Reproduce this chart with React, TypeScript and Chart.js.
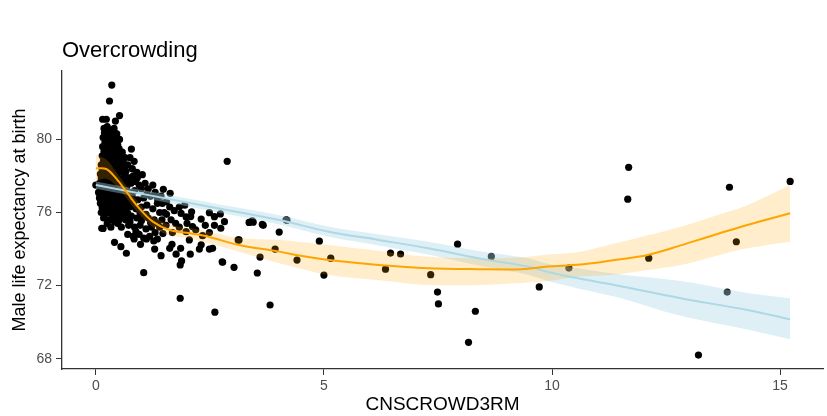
import React, { useEffect, useRef } from "react";
import { Chart, registerables } from "chart.js";

Chart.register(...registerables);

const TITLE = "Overcrowding";
const X_LABEL = "CNSCROWD3RM";
const Y_LABEL = "Male life expectancy at birth";
const xTicks = [0, 5, 10, 15];
const yTicks = [68, 72, 76, 80];

// observed areas: [CNSCROWD3RM, male life expectancy]
const observations: number[][] = [
  [0.35, 82.97], [0.3, 82.1], [0.15, 81.1], [0.23, 81.1], [0.43, 81.0], [0.52, 81.3], [0.78, 79.47], [0.84, 78.8], [2.88, 78.8],
  [0.18, 80.6], [0.25, 80.7], [0.33, 80.5], [0.4, 80.6], [0.46, 80.3],
  [0.16, 80.1], [0.24, 80.2], [0.31, 80.0], [0.38, 80.1], [0.45, 79.9], [0.52, 80.0],
  [0.15, 79.6], [0.22, 79.7], [0.3, 79.5], [0.37, 79.6], [0.44, 79.4], [0.51, 79.5], [0.58, 79.3],
  [0.14, 79.1], [0.21, 79.2], [0.28, 79.0], [0.35, 79.1], [0.43, 78.9], [0.5, 79.0], [0.57, 78.8], [0.64, 79.0],
  [0.12, 78.6], [0.2, 78.7], [0.27, 78.5], [0.34, 78.6], [0.41, 78.4], [0.48, 78.5], [0.56, 78.3], [0.63, 78.5], [0.7, 78.6],
  [0.1, 78.1], [0.18, 78.2], [0.26, 78.0], [0.33, 78.1], [0.4, 77.9], [0.47, 78.0], [0.54, 77.8], [0.62, 78.0], [0.69, 77.9],
  [0.0, 77.5], [0.08, 77.6], [0.16, 77.7], [0.24, 77.5], [0.31, 77.6], [0.39, 77.4], [0.46, 77.5], [0.53, 77.3], [0.61, 77.5], [0.68, 77.4],
  [0.06, 77.1], [0.14, 77.0], [0.22, 77.1], [0.3, 76.9], [0.37, 77.0], [0.45, 76.8], [0.52, 77.0], [0.6, 76.9], [0.67, 76.8],
  [0.1, 76.5], [0.18, 76.6], [0.26, 76.4], [0.33, 76.5], [0.41, 76.3], [0.49, 76.5], [0.57, 76.3], [0.65, 76.4],
  [0.12, 76.0], [0.2, 75.9], [0.28, 76.0], [0.36, 75.8], [0.44, 75.9], [0.52, 75.7], [0.6, 75.9],
  [0.13, 75.14], [0.41, 75.5], [0.48, 75.4], [0.25, 75.4], [0.33, 75.2], [0.56, 75.2],
  [0.19, 80.35], [0.27, 80.4], [0.35, 80.3], [0.42, 80.35], [0.2, 79.85], [0.27, 79.9], [0.34, 79.8], [0.41, 79.85], [0.48, 79.7],
  [0.18, 79.35], [0.25, 79.4], [0.33, 79.3], [0.4, 79.35], [0.47, 79.2], [0.55, 79.1], [0.17, 78.85], [0.24, 78.9], [0.31, 78.8],
  [0.39, 78.75], [0.46, 78.7], [0.53, 78.6], [0.6, 78.75], [0.14, 78.35], [0.22, 78.45], [0.3, 78.3], [0.37, 78.35], [0.44, 78.2],
  [0.51, 78.25], [0.59, 78.2], [0.66, 78.25], [0.12, 77.85], [0.2, 77.9], [0.28, 77.8], [0.35, 77.85], [0.43, 77.7], [0.5, 77.6],
  [0.58, 77.7], [0.65, 77.65], [0.73, 77.9], [0.1, 77.3], [0.18, 77.35], [0.27, 77.25], [0.34, 77.3], [0.42, 77.15], [0.49, 77.2],
  [0.57, 77.1], [0.64, 77.2], [0.72, 77.1], [0.08, 76.8], [0.15, 76.85], [0.23, 76.75], [0.31, 76.7], [0.39, 76.6], [0.47, 76.7],
  [0.55, 76.6], [0.63, 76.65], [0.7, 76.6], [0.14, 76.25], [0.23, 76.2], [0.3, 76.25], [0.39, 76.1], [0.47, 76.2], [0.55, 76.0],
  [0.63, 76.1], [0.7, 75.95], [0.17, 75.7], [0.3, 75.6], [0.4, 75.7], [0.5, 75.55], [0.65, 75.6],
  [0.75, 79.0], [0.9, 78.2], [1.02, 78.07], [0.91, 77.9], [0.8, 78.4], [0.77, 77.6], [0.85, 77.2], [0.95, 77.5], [1.08, 77.6],
  [1.15, 77.3], [1.25, 77.5], [1.3, 77.1], [1.2, 76.9], [1.05, 76.8], [0.92, 76.7], [0.8, 76.9], [0.75, 76.3], [0.88, 76.2],
  [1.0, 76.3], [1.12, 76.4], [1.25, 76.2], [1.35, 76.5], [1.4, 76.0], [0.78, 75.8], [0.9, 75.7], [1.03, 75.8], [1.15, 75.7],
  [1.28, 75.6], [0.72, 75.3], [0.85, 75.2], [0.97, 75.3], [1.1, 75.1], [1.22, 75.2], [1.35, 75.4], [0.7, 74.8], [0.82, 74.7],
  [0.95, 74.8], [1.05, 74.6], [1.18, 74.7], [1.3, 74.9],
  [0.82, 78.0], [0.87, 77.7], [1.0, 77.3], [1.12, 77.0], [0.83, 76.55], [0.97, 76.0], [1.1, 75.9], [1.2, 75.45], [1.0, 75.55],
  [0.75, 75.5], [0.88, 74.95], [1.4, 75.2], [1.5, 76.0], [1.35, 76.75],
  [0.41, 74.37], [0.55, 74.13], [0.67, 73.77], [0.84, 74.55], [0.98, 74.26], [1.11, 74.55], [1.27, 74.44], [1.35, 74.55],
  [1.29, 74.0], [1.43, 73.64], [1.05, 72.71], [1.62, 74.04], [1.67, 74.26], [1.86, 74.04], [1.76, 73.72], [1.88, 73.35],
  [1.85, 73.13], [2.07, 73.72], [2.05, 74.5], [2.31, 74.23], [2.27, 74.0], [2.49, 74.0], [2.56, 74.04], [2.78, 73.28],
  [3.03, 73.0], [3.12, 74.5], [1.85, 71.31], [2.61, 70.55], [0.16, 75.13],
  [1.48, 77.27], [1.63, 77.05], [1.43, 76.9], [1.46, 76.5], [1.62, 76.3], [1.72, 76.1], [1.83, 76.3], [1.87, 75.95],
  [2.1, 76.04], [2.08, 75.78], [1.98, 75.76], [2.31, 75.64], [2.49, 75.99], [2.6, 75.77], [2.73, 75.92], [2.82, 75.5],
  [2.74, 75.14], [2.49, 74.9], [3.36, 75.46], [3.14, 74.5], [2.12, 75.23], [2.19, 75.05], [1.83, 75.2], [1.54, 75.3],
  [1.47, 74.85], [1.68, 74.9], [1.98, 74.95], [2.34, 74.73], [1.55, 75.9], [1.45, 75.6], [1.65, 75.6], [1.75, 75.4],
  [2.0, 75.4], [2.4, 75.3], [2.6, 75.3], [1.55, 76.6], [1.95, 76.4],
  [3.43, 75.55], [3.65, 75.35], [4.17, 75.6], [4.19, 75.58], [4.02, 74.93], [3.67, 75.3], [3.45, 75.47], [3.6, 73.56],
  [3.93, 74.0], [3.54, 72.69], [3.82, 70.94], [2.77, 73.3],
  [4.41, 73.4], [4.9, 74.43], [5.0, 72.58], [5.15, 73.5], [6.35, 72.9], [6.46, 73.78], [6.68, 73.73], [7.34, 72.6],
  [7.49, 71.65], [7.51, 71.0], [7.93, 74.27], [8.17, 68.9], [8.32, 70.6], [8.67, 73.6], [9.72, 71.93], [10.37, 72.96],
  [11.68, 78.47], [11.66, 76.73], [12.12, 73.5], [13.21, 68.2], [13.84, 71.65], [13.89, 77.38], [14.04, 74.4], [15.22, 77.7],
];

// loess smooth (orange) with confidence band
const loessX = [0, 0.23, 0.45, 0.67, 0.92, 1.25, 1.62, 2.12, 2.49, 3.14, 4.02, 4.45, 5.11, 6.2, 7.29, 8.38, 9.33, 9.91, 10.63, 11.37, 12.1, 12.82, 13.55, 14.28, 15.22];
const loessFit = [78.42, 78.38, 77.85, 77.14, 76.32, 75.5, 75.04, 74.84, 74.66, 74.22, 73.86, 73.65, 73.4, 73.13, 72.95, 72.9, 72.9, 73.04, 73.15, 73.4, 73.68, 74.2, 74.77, 75.32, 75.96];
const loessHigh = [79.15, 78.9, 78.2, 77.45, 76.6, 75.8, 75.35, 75.12, 74.95, 74.6, 74.5, 74.4, 74.22, 73.9, 73.58, 73.5, 73.55, 73.7, 73.86, 74.3, 74.75, 75.22, 75.8, 76.4, 77.5];
const loessLow = [77.7, 77.85, 77.45, 76.8, 76.0, 75.2, 74.75, 74.55, 74.3, 73.85, 73.22, 72.95, 72.58, 72.3, 72.04, 72.04, 72.15, 72.25, 72.5, 72.6, 72.85, 73.13, 73.6, 74.04, 74.4];

// linear smooth (light blue) with confidence band
const linearX = [0, 2.49, 4.02, 5.11, 6.2, 7.29, 8.38, 9.48, 9.91, 10.57, 11.37, 12.82, 14.28, 15.22];
const linearFit = [77.5, 76.32, 75.59, 74.95, 74.5, 74.04, 73.5, 73.04, 72.75, 72.4, 72.04, 71.31, 70.67, 70.16];
const linearHigh = [77.7, 76.55, 75.85, 75.22, 74.8, 74.4, 73.9, 73.5, 73.2, 72.95, 72.65, 72.25, 71.6, 71.31];
const linearLow = [77.3, 76.1, 75.35, 74.68, 74.2, 73.7, 73.1, 72.6, 72.25, 71.85, 71.4, 70.35, 69.6, 69.07];

const FONT = '"Liberation Sans", Arial, Helvetica, sans-serif';

const toXY = (xs: number[], ys: number[]) => xs.map((x, i) => ({ x, y: ys[i] }));

const titlePlugin = {
  id: "plotTitle",
  afterDraw(chart: any) {
    const ctx = chart.ctx;
    ctx.save();
    ctx.font = `22px ${FONT}`;
    ctx.fillStyle = "#000000";
    ctx.textAlign = "left";
    ctx.textBaseline = "alphabetic";
    ctx.fillText(TITLE, chart.chartArea.left, 57);
    ctx.restore();
  },
};

export default function App() {
  const canvasRef = useRef<HTMLCanvasElement | null>(null);

  useEffect(() => {
    if (!canvasRef.current) return;
    Chart.defaults.font.family = FONT;
    const chart = new Chart(canvasRef.current, {
      type: "scatter",
      data: {
        datasets: [
          {
            type: "line",
            label: "loess",
            data: toXY(loessX, loessFit),
            borderColor: "#FFA500",
            borderWidth: 2,
            pointRadius: 0,
            tension: 0.35,
            fill: false,
            order: 1,
          } as any,
          {
            type: "line",
            label: "linear",
            data: toXY(linearX, linearFit),
            borderColor: "#ADD8E6",
            borderWidth: 2,
            pointRadius: 0,
            tension: 0.35,
            fill: false,
            order: 2,
          } as any,
          {
            type: "line",
            label: "loess high",
            data: toXY(loessX, loessHigh),
            borderWidth: 0,
            borderColor: "rgba(0,0,0,0)",
            backgroundColor: "rgba(255,165,0,0.2)",
            pointRadius: 0,
            tension: 0.35,
            fill: "+1",
            order: 4,
          } as any,
          {
            type: "line",
            label: "loess low",
            data: toXY(loessX, loessLow),
            borderWidth: 0,
            borderColor: "rgba(0,0,0,0)",
            pointRadius: 0,
            tension: 0.35,
            fill: false,
            order: 4,
          } as any,
          {
            type: "line",
            label: "linear high",
            data: toXY(linearX, linearHigh),
            borderWidth: 0,
            borderColor: "rgba(0,0,0,0)",
            backgroundColor: "rgba(173,216,230,0.4)",
            pointRadius: 0,
            tension: 0.35,
            fill: "+1",
            order: 6,
          } as any,
          {
            type: "line",
            label: "linear low",
            data: toXY(linearX, linearLow),
            borderWidth: 0,
            borderColor: "rgba(0,0,0,0)",
            pointRadius: 0,
            tension: 0.35,
            fill: false,
            order: 6,
          } as any,
          {
            type: "scatter",
            label: "areas",
            data: observations.map(([x, y]) => ({ x, y })),
            backgroundColor: "#000000",
            borderWidth: 0,
            pointRadius: 3.6,
            order: 10,
          } as any,
        ],
      },
      options: {
        responsive: false,
        animation: false,
        devicePixelRatio: 1,
        layout: { padding: { top: 71, right: 0, left: 0, bottom: 0 } },
        plugins: {
          legend: { display: false },
          tooltip: { enabled: false },
          title: { display: false },
        },
        scales: {
          x: {
            type: "linear",
            min: -0.741,
            max: 15.94,
            afterBuildTicks: (s: any) => {
              s.ticks = xTicks.map((v) => ({ value: v }));
            },
            afterFit: (s: any) => {
              s.height = 47;
            },
            grid: { drawOnChartArea: false, drawTicks: true, tickLength: 6, color: "#333333" },
            border: { display: true, color: "#333333", width: 1.3 },
            ticks: { color: "#4D4D4D", font: { size: 14 }, padding: 3, maxRotation: 0 },
            title: {
              display: true,
              text: X_LABEL,
              color: "#000000",
              font: { size: 19 },
              padding: { top: 0, bottom: 0 },
            },
          },
          y: {
            type: "linear",
            min: 67.44,
            max: 83.74,
            afterBuildTicks: (s: any) => {
              s.ticks = yTicks.map((v) => ({ value: v }));
            },
            afterFit: (s: any) => {
              s.width = 62;
            },
            grid: { drawOnChartArea: false, drawTicks: true, tickLength: 6, color: "#333333" },
            border: { display: true, color: "#333333", width: 1.3 },
            ticks: { color: "#4D4D4D", font: { size: 14 }, padding: 4 },
            title: {
              display: true,
              text: Y_LABEL,
              color: "#000000",
              font: { size: 18 },
              padding: { top: 9, bottom: 0 },
            },
          },
        },
      },
      plugins: [titlePlugin],
    });
    return () => chart.destroy();
  }, []);

  return (
    <div style={{ position: "fixed", left: 0, top: 0, width: 827, height: 416, background: "#ffffff" }}>
      <canvas ref={canvasRef} width={827} height={416} style={{ width: 827, height: 416 }} />
    </div>
  );
}
